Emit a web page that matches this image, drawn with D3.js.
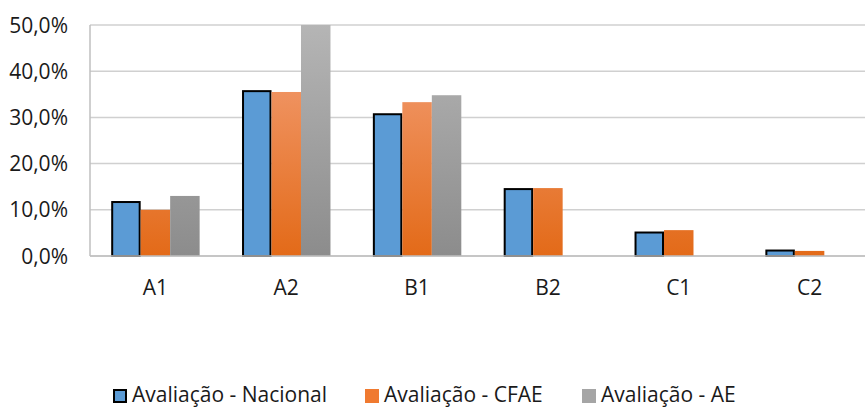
<!DOCTYPE html>
<html><head><meta charset="utf-8">
<script src="https://cdn.jsdelivr.net/npm/d3@7"></script>
<style>body{margin:0;background:#fff}svg{display:block}text{font-family:"Open Sans",sans-serif;fill:#1a1a1a}</style>
</head><body><svg id="c" width="865" height="407"></svg>
<script>
const categories = ["A1","A2","B1","B2","C1","C2"];
const seriesNames = ["Avaliação - Nacional","Avaliação - CFAE","Avaliação - AE"];
const nacional = [11.9, 35.9, 30.9, 14.7, 5.3, 1.4];
const cfae = [10.0, 35.5, 33.3, 14.7, 5.6, 1.1];
const ae = [13.0, 50.0, 34.8, 0, 0, 0];
const yTicks = [0,10,20,30,40,50];
const seriesValues = [nacional, cfae, ae];

(function(){
const svg = d3.select("#c");
const pL = 90, pR = 875, pT = 25, pB = 256;
const x0 = d3.scaleBand().domain(categories).range([pL, pR]);
const bw = x0.bandwidth();
const x1 = d3.scaleBand().domain(seriesNames).range([bw*0.162, bw*0.838]);
const y = d3.scaleLinear().domain([0,50]).range([pB, pT]);

const defs = svg.append("defs");
function grad(id, c1, c2){
  const g = defs.append("linearGradient").attr("id", id).attr("gradientUnits","userSpaceOnUse")
    .attr("x1",0).attr("x2",0).attr("y1",pT).attr("y2",pB);
  g.append("stop").attr("offset","0%").attr("stop-color",c1);
  g.append("stop").attr("offset","100%").attr("stop-color",c2);
}
grad("gO","#f4a27c","#e36a18");
grad("gG","#b5b5b5","#8c8c8c");
const fills = ["#5b9bd5","url(#gO)","url(#gG)"];
const legendFills = ["#5b9bd5","#f07a30","#a5a5a5"];

svg.append("g").selectAll("line").data(yTicks).join("line")
  .attr("x1", pL).attr("x2", 865).attr("y1", d=>y(d)).attr("y2", d=>y(d))
  .attr("stroke", "#d0d0d0").attr("stroke-width", 1.5);
svg.append("line").attr("x1",pL).attr("x2",pL).attr("y1",pT).attr("y2",pB).attr("stroke","#bfbfbf").attr("stroke-width",1.5);

svg.append("g").selectAll("text").data(yTicks).join("text")
  .attr("x", 68).attr("y", d=>y(d)).attr("dy","0.36em").attr("text-anchor","end")
  .style("font-size","21px").text(d=>d3.format(".1f")(d).replace(".",",")+"%");

seriesValues.forEach((vals, si) => {
  const b = si===0 ? 1 : 0;
  svg.append("g").selectAll("rect").data(vals.map((v,i)=>({c:categories[i], v})).filter(d=>d.v>0)).join("rect")
    .attr("x", d=>x0(d.c)+x1(seriesNames[si]) + b)
    .attr("y", d=>y(d.v) + b)
    .attr("width", x1.bandwidth() - 2*b)
    .attr("height", d=>pB - y(d.v) - b)
    .attr("fill", fills[si])
    .attr("stroke", si===0?"#000":"none")
    .attr("stroke-width", si===0?2:0);
});
svg.append("line").attr("x1",pL).attr("x2",865).attr("y1",pB).attr("y2",pB).attr("stroke","#bfbfbf").attr("stroke-width",1.5);

svg.append("g").selectAll("text").data(categories).join("text")
  .attr("x", d=>x0(d)+bw/2).attr("y", 295).attr("text-anchor","middle")
  .style("font-size","21px").text(d=>d);

const legX = [113, 365, 582];
const lg = svg.append("g");
seriesNames.forEach((n,i)=>{
  const b = i===0 ? 1 : 0;
  lg.append("rect").attr("x", legX[i]+b).attr("y", 389+b).attr("width", 14-2*b).attr("height", 14-2*b)
    .attr("fill", legendFills[i]).attr("stroke", i===0?"#000":"none").attr("stroke-width", i===0?2:0);
  lg.append("text").attr("x", legX[i]+19).attr("y", 402).style("font-size","21px").text(n);
});
})();
</script></body></html>
